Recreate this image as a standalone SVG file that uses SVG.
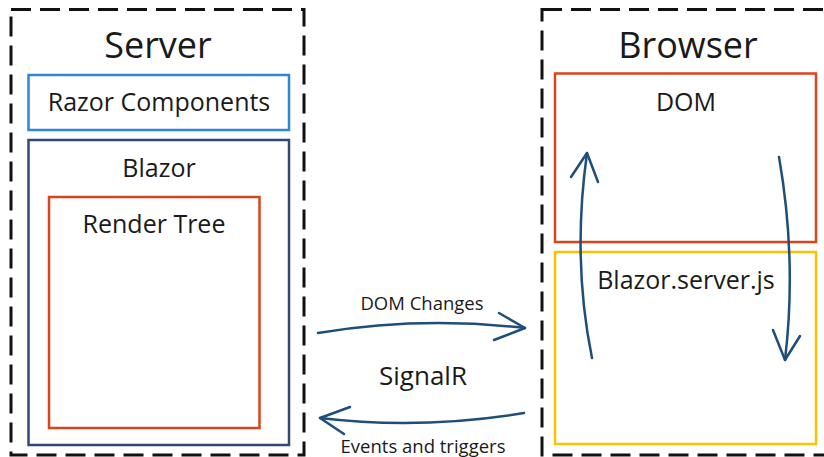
<svg xmlns="http://www.w3.org/2000/svg" width="824" height="457" viewBox="0 0 824 457">
<defs>
<style>
.region{fill:none;stroke:#111;stroke-width:3;stroke-dasharray:20 9}
.box{fill:none;stroke-width:2.5}
.t{font-family:"Open Sans","Noto Sans",sans-serif;fill:#1a1a1a;text-anchor:middle}
.title{font-size:36px}
.lbl{font-size:25px}
.small{font-size:18.5px}
.arr{fill:none;stroke:#1f4e79;stroke-width:2.5;stroke-linecap:round;stroke-linejoin:round}
</style>
</defs>
<rect width="824" height="457" fill="#fff"/>
<g id="server">
<rect class="region" x="11" y="9.5" width="293" height="445.5"/>
<text class="t title" x="158" y="58">Server</text>
</g>
<g id="browser">
<rect class="region" x="542" y="9.5" width="300" height="445.5"/>
<text class="t title" x="688" y="58">Browser</text>
</g>
<g id="razor-components">
<rect class="box" x="28.5" y="75" width="260.5" height="55" stroke="#2b87d8"/>
<text class="t lbl" x="159" y="111">Razor Components</text>
</g>
<g id="blazor">
<rect class="box" x="28.5" y="140" width="260.5" height="305" stroke="#2e4a75"/>
<text class="t lbl" x="159" y="177">Blazor</text>
</g>
<g id="render-tree">
<rect class="box" x="49" y="197" width="210.5" height="231" stroke="#d9441a"/>
<text class="t lbl" x="154" y="233">Render Tree</text>
</g>
<g id="dom">
<rect class="box" x="555" y="73.5" width="261" height="168.5" stroke="#d9441a"/>
<text class="t lbl" x="686" y="111">DOM</text>
</g>
<g id="blazor-server-js">
<rect class="box" x="555" y="252" width="261" height="192" stroke="#ffc000"/>
<text class="t lbl" x="686" y="289">Blazor.server.js</text>
</g>
<g id="connectors">
<path class="arr" d="M318,333 Q420,316 525,328"/>
<path class="arr" d="M499,313 L525,328 L494,340"/>
<path class="arr" d="M524,413 Q420,430 320,418"/>
<path class="arr" d="M350,407 L320,418 L344,434"/>
<path class="arr" d="M592,358 Q572,260 587,153"/>
<path class="arr" d="M571,177 L587,153 L598,182"/>
<path class="arr" d="M779,157 Q797,260 785,360"/>
<path class="arr" d="M773,330 L785,360 L800,336"/>
<text class="t small" x="422" y="310">DOM Changes</text>
<text class="t" style="font-size:26px" x="423" y="385">SignalR</text>
<text class="t small" x="423" y="453">Events and triggers</text>
</g>
</svg>
